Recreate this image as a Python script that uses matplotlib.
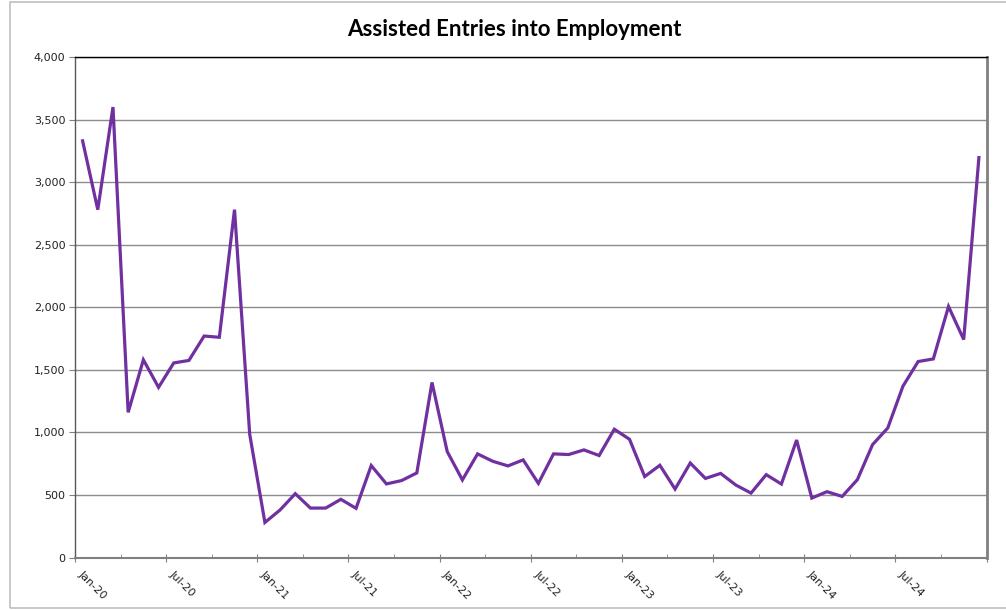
import matplotlib
matplotlib.use("Agg")
import matplotlib.pyplot as plt
from matplotlib.patches import Rectangle
from matplotlib.ticker import FuncFormatter, MultipleLocator, NullFormatter
from matplotlib.transforms import ScaledTranslation
import numpy as np

# monthly values Jan-20 .. Dec-24
y2020 = [3330, 2780, 3600, 1160, 1580, 1360, 1555, 1575, 1770, 1760, 2780, 985]
y2021 = [280, 380, 510, 395, 395, 465, 393, 735, 588, 615, 676, 1399]
y2022 = [847, 620, 828, 769, 732, 780, 593, 828, 823, 860, 815, 1025]
y2023 = [945, 647, 737, 547, 755, 632, 672, 579, 515, 662, 587, 939]
y2024 = [475, 526, 488, 622, 902, 1035, 1369, 1566, 1587, 2006, 1742, 3196]
entries = y2020 + y2021 + y2022 + y2023 + y2024

tick_labels = ["Jan-20", "Jul-20", "Jan-21", "Jul-21", "Jan-22",
               "Jul-22", "Jan-23", "Jul-23", "Jan-24", "Jul-24"]

fig = plt.figure(figsize=(10.06, 6.10), dpi=100)
ax = fig.add_axes([75 / 1006, 1 - 557.5 / 610, 911.5 / 1006, 500.5 / 610])

# chart area border
fig.patches.append(Rectangle((10 / 1006, 2 / 610), 1.0, 606 / 610,
                             transform=fig.transFigure, fill=False,
                             edgecolor="#BFBFBF", lw=1.2))

x = np.arange(len(entries)) + 0.5
ax.plot(x, entries, color="#7030A0", lw=2.3, solid_joinstyle="miter")

ax.set_xlim(0, len(entries))
ax.set_ylim(0, 4000)
ax.yaxis.set_major_locator(MultipleLocator(500))
ax.yaxis.set_major_formatter(FuncFormatter(lambda v, p: f"{int(v):,}"))
ax.grid(axis="y", color="#8C8C8C", lw=1.0)
ax.set_axisbelow(True)

ax.set_xticks(np.arange(0, 61, 6))
ax.set_xticks(np.arange(3, 60, 6), minor=True)
ax.xaxis.set_major_formatter(NullFormatter())
ax.tick_params(axis="x", which="major", direction="inout", length=6,
               color="#808080")
ax.tick_params(axis="x", which="minor", direction="in", length=3,
               color="#808080")
ax.tick_params(axis="y", direction="out", length=4, color="#808080",
               labelsize=8, labelcolor="#222222", pad=3)

# rotated date labels, hung just below each half-year tick
lbl_trans = ax.get_xaxis_transform() + ScaledTranslation(0.085, -0.11, fig.dpi_scale_trans)
for i, lab in enumerate(tick_labels):
    ax.text(i * 6, 0, lab, transform=lbl_trans, rotation=-45,
            rotation_mode="anchor", ha="left", va="top",
            fontsize=8, color="#222222")

ax.spines["top"].set_color("black")
ax.spines["top"].set_linewidth(1.0)
ax.spines["left"].set_color("#595959")
ax.spines["left"].set_linewidth(1.0)
ax.spines["bottom"].set_color("#808080")
ax.spines["bottom"].set_linewidth(1.5)
ax.spines["right"].set_color("#808080")
ax.spines["right"].set_linewidth(2.0)

fig.text(514 / 1006, 1 - 29 / 610, "Assisted Entries into Employment",
         ha="center", va="center", fontsize=16, fontweight="bold",
         family="Lato")

fig.savefig("out.png", dpi=100)
